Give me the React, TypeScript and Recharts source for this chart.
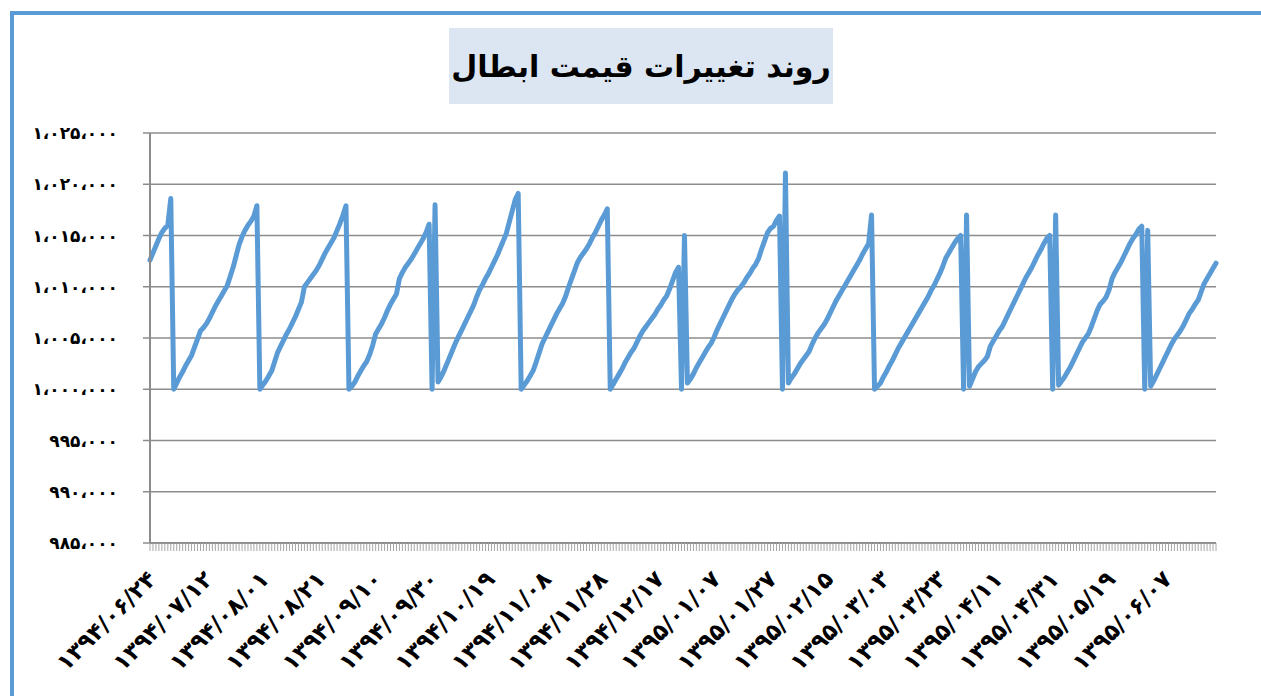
import { CartesianGrid, Line, LineChart, XAxis, YAxis } from "recharts";

// قیمت ابطال روزانه (ریال) — هر آرایه تقریباً دو ماه
const prices1 = [
  1012600, 1013300, 1014000, 1014700, 1015300, 1015700, 1016000, 1018600, 1000000, 1000600,
  1001200, 1001700, 1002300, 1002800, 1003300, 1004100, 1004900, 1005700, 1006000, 1006400,
  1006900, 1007500, 1008100, 1008600, 1009100, 1009600, 1010100, 1011000, 1011900, 1013000,
  1014100, 1014900, 1015500, 1016000, 1016400, 1016900, 1017900, 1000000, 1000400, 1000800,
  1001300, 1001800, 1002700, 1003600, 1004200, 1004800, 1005400, 1005900, 1006500, 1007100,
  1007800, 1008500, 1010000, 1010400, 1010800, 1011200, 1011600, 1012100, 1012700, 1013300,
];
const prices2 = [
  1013800, 1014300, 1014800, 1015500, 1016200, 1017000, 1017900, 1000000, 1000300, 1000700,
  1001300, 1001800, 1002300, 1002700, 1003400, 1004300, 1005400, 1005900, 1006400, 1007000,
  1007700, 1008300, 1008800, 1009300, 1010800, 1011400, 1011900, 1012300, 1012700, 1013200,
  1013700, 1014200, 1014700, 1015300, 1016100, 1000000, 1018000, 1000700, 1001200, 1001800,
  1002500, 1003200, 1003900, 1004600, 1005200, 1005800, 1006400, 1007000, 1007600, 1008200,
  1009000, 1009700, 1010200, 1010800, 1011300, 1011900, 1012500, 1013100, 1013800, 1014500,
];
const prices3 = [
  1015200, 1016300, 1017400, 1018500, 1019100, 1000000, 1000400, 1000800, 1001300, 1001800,
  1002600, 1003500, 1004400, 1005000, 1005600, 1006200, 1006800, 1007400, 1007900, 1008400,
  1009100, 1010000, 1010800, 1011600, 1012400, 1012900, 1013300, 1013700, 1014200, 1014800,
  1015300, 1015900, 1016500, 1017000, 1017600, 1000000, 1000500, 1001000, 1001500, 1002000,
  1002600, 1003100, 1003600, 1004000, 1004600, 1005200, 1005700, 1006100, 1006500, 1006900,
  1007300, 1007800, 1008200, 1008700, 1009100, 1009800, 1010600, 1011400, 1011900, 1000000,
];
const prices4 = [
  1015000, 1000600, 1001000, 1001500, 1002100, 1002600, 1003100, 1003600, 1004100, 1004500,
  1005100, 1005800, 1006400, 1007000, 1007600, 1008200, 1008800, 1009300, 1009700, 1010000,
  1010400, 1010900, 1011300, 1011800, 1012200, 1012800, 1013700, 1014500, 1015300, 1015700,
  1015900, 1016500, 1016900, 1000000, 1021100, 1000600, 1001100, 1001500, 1002000, 1002500,
  1002900, 1003300, 1003700, 1004400, 1005000, 1005500, 1005900, 1006300, 1006800, 1007400,
  1008000, 1008600, 1009100, 1009600, 1010100, 1010600, 1011100, 1011600, 1012100, 1012600,
];
const prices5 = [
  1013200, 1013700, 1014200, 1017000, 1000000, 1000300, 1000600, 1001200, 1001700, 1002300,
  1002800, 1003400, 1004000, 1004500, 1005000, 1005500, 1006000, 1006500, 1007000, 1007500,
  1008000, 1008500, 1009000, 1009600, 1010100, 1010700, 1011300, 1012000, 1012800, 1013300,
  1013800, 1014300, 1014700, 1015000, 1000000, 1017000, 1000300, 1001000, 1001700, 1002200,
  1002500, 1002800, 1003200, 1004200, 1004700, 1005200, 1005700, 1006100, 1006700, 1007300,
  1007900, 1008500, 1009100, 1009700, 1010300, 1010900, 1011400, 1011900, 1012500, 1013100,
];
const prices6 = [
  1013600, 1014200, 1014700, 1015000, 1000000, 1017000, 1000400, 1000800, 1001200, 1001700,
  1002200, 1002800, 1003400, 1004000, 1004600, 1005000, 1005400, 1006100, 1006900, 1007700,
  1008300, 1008600, 1009000, 1009700, 1010800, 1011400, 1011900, 1012400, 1013000, 1013600,
  1014200, 1014700, 1015100, 1015600, 1015900, 1000000, 1015500, 1000300, 1000800, 1001400,
  1002000, 1002600, 1003200, 1003800, 1004400, 1004900, 1005300, 1005700, 1006200, 1006800,
  1007400, 1007800, 1008300, 1008700, 1009500, 1010300, 1010800, 1011300, 1011800, 1012300,
];

// برچسب تاریخ هر ۱۹ روز
const dateLabels = [
  "۱۳۹۴/۰۶/۲۴", "۱۳۹۴/۰۷/۱۲", "۱۳۹۴/۰۸/۰۱", "۱۳۹۴/۰۸/۲۱", "۱۳۹۴/۰۹/۱۰",
  "۱۳۹۴/۰۹/۳۰", "۱۳۹۴/۱۰/۱۹", "۱۳۹۴/۱۱/۰۸", "۱۳۹۴/۱۱/۲۸", "۱۳۹۴/۱۲/۱۷",
  "۱۳۹۵/۰۱/۰۷", "۱۳۹۵/۰۱/۲۷", "۱۳۹۵/۰۲/۱۵", "۱۳۹۵/۰۳/۰۳", "۱۳۹۵/۰۳/۲۳",
  "۱۳۹۵/۰۴/۱۱", "۱۳۹۵/۰۴/۳۱", "۱۳۹۵/۰۵/۱۹", "۱۳۹۵/۰۶/۰۷",
];
const LABEL_STEP = 19;

const yTicks = [985000, 990000, 995000, 1000000, 1005000, 1010000, 1015000, 1020000, 1025000];

const title = "روند تغییرات قیمت ابطال";

const FA_DIGITS = "۰۱۲۳۴۵۶۷۸۹";
const toFa = (s: string) => s.replace(/\d/g, (d) => FA_DIGITS[Number(d)]);
const fmtY = (v: number) => toFa(v.toLocaleString("en-US")).replace(/,/g, "،");

const FONT = '"DejaVu Sans", sans-serif';
const BLUE = "#5B9BD5";
const GRID = "#8c8c8c";

const prices = [...prices1, ...prices2, ...prices3, ...prices4, ...prices5, ...prices6];
const data = prices.map((price, idx) => ({ idx, price }));

function DateTick(props: any) {
  const { x, y, payload } = props;
  const i = payload.value as number;
  if (i % LABEL_STEP !== 0) return <g />;
  const label = dateLabels[i / LABEL_STEP];
  if (!label) return <g />;
  const tx = x + 2;
  const ty = y + 22;
  return (
    <text
      x={tx}
      y={ty}
      transform={`rotate(-45, ${tx}, ${ty})`}
      textAnchor="end"
      dominantBaseline="central"
      fontFamily={FONT}
      fontWeight="bold"
      fontSize={23}
      fill="#000"
    >
      {label}
    </text>
  );
}

export default function App() {
  return (
    <div
      style={{
        position: "absolute",
        left: 0,
        top: 0,
        width: 1261,
        height: 696,
        background: "#fff",
        overflow: "hidden",
      }}
    >
      <div
        style={{
          position: "absolute",
          left: 10,
          top: 11,
          width: 1400,
          height: 900,
          border: `4px solid ${BLUE}`,
        }}
      />
      <div
        style={{
          position: "absolute",
          left: 449,
          top: 28,
          width: 384,
          height: 76,
          background: "#DCE6F2",
          display: "flex",
          alignItems: "center",
          justifyContent: "center",
          fontFamily: FONT,
          fontWeight: "bold",
          fontSize: 30,
          direction: "rtl",
          color: "#000",
        }}
      >
        {title}
      </div>
      <div style={{ position: "absolute", left: 0, top: 0 }}>
        <LineChart
          width={1261}
          height={696}
          data={data}
          margin={{ top: 133, right: 45, bottom: 0, left: 0 }}
        >
          <CartesianGrid vertical={false} stroke={GRID} strokeWidth={1.5} />
          <XAxis
            dataKey="idx"
            type="category"
            interval={0}
            tick={<DateTick />}
            tickSize={8}
            tickLine={{ stroke: "#a6a6a6", strokeWidth: 1 }}
            axisLine={{ stroke: GRID, strokeWidth: 2 }}
            height={153}
          />
          <YAxis
            type="number"
            domain={[985000, 1025000]}
            ticks={yTicks}
            interval={0}
            width={150}
            tickSize={7}
            tickMargin={25}
            tickFormatter={fmtY}
            tick={{ fontFamily: FONT, fontWeight: "bold", fontSize: 17, fill: "#000" }}
            tickLine={{ stroke: GRID, strokeWidth: 1.5 }}
            axisLine={{ stroke: GRID, strokeWidth: 2 }}
          />
          <Line
            type="linear"
            dataKey="price"
            stroke={BLUE}
            strokeWidth={5}
            strokeLinejoin="round"
            strokeLinecap="round"
            dot={false}
            activeDot={false}
            isAnimationActive={false}
          />
        </LineChart>
      </div>
    </div>
  );
}
